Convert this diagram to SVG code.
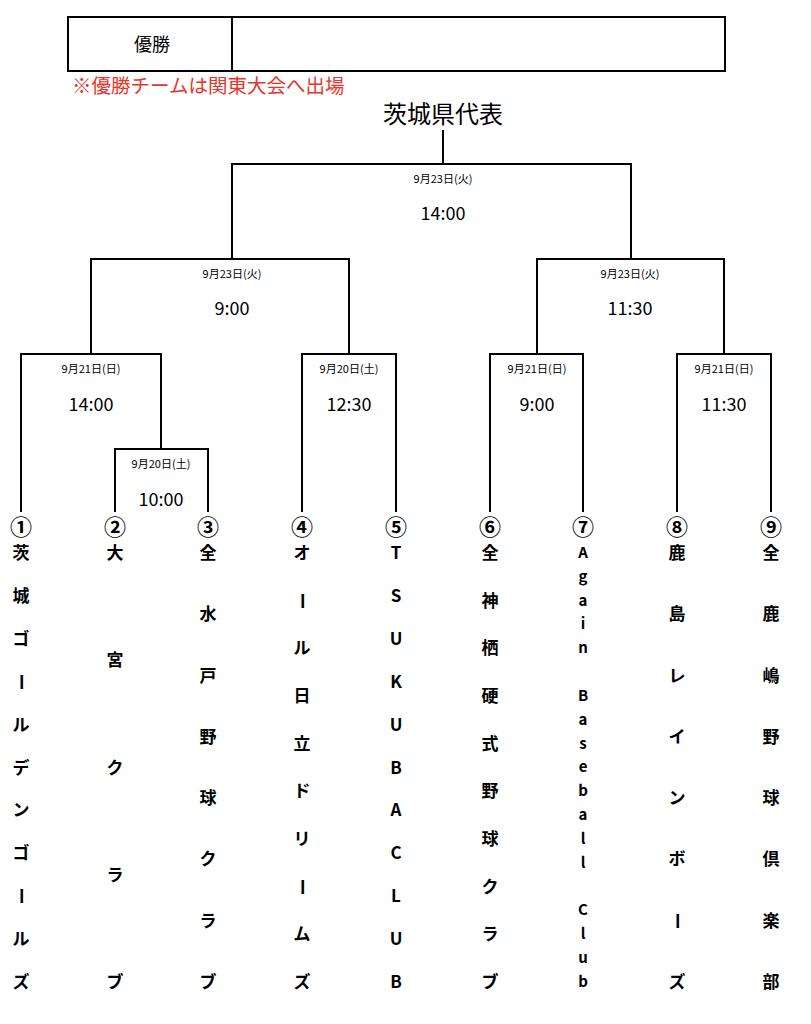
<svg xmlns="http://www.w3.org/2000/svg" width="811" height="1024" viewBox="0 0 811 1024">
<style>
.l{stroke:#000;stroke-width:2;fill:none}
text{font-family:"Noto Sans CJK JP","DejaVu Sans",sans-serif;text-anchor:middle}
.d{font-size:11px}
.t{font-size:18px}
.n{font-size:22px;font-weight:bold}
.c{font-size:17px;font-weight:bold}
</style>
<rect width="811" height="1024" fill="#fff"/>
<g id="winner">
<rect x="68" y="17" width="657" height="54" class="l"/>
<line x1="232" y1="17" x2="232" y2="71" class="l"/>
<text x="152" y="51" style="font-size:18px">優勝</text>
<text x="72" y="93" style="font-size:19.5px;fill:#e8352a;text-anchor:start">※優勝チームは関東大会へ出場</text>
<text x="443" y="123" style="font-size:24px">茨城県代表</text>
</g>
<g id="connectors" class="l">
<path d="M443 130V164M232 259V164H631V259"/>
<path d="M91 354V259H349V354M537 354V259H724V354"/>
<path d="M21 512V354H161V449M115 512V449H208V512"/>
<path d="M302 512V354H396V512M490 512V354H583V512M677 512V354H771V512"/>
</g>
<g id="labels">
<text x="443" y="183" class="d">9月23日(火)</text><text x="443" y="220" class="t">14:00</text>
<text x="232" y="278" class="d">9月23日(火)</text><text x="232" y="315" class="t">9:00</text>
<text x="630" y="278" class="d">9月23日(火)</text><text x="630" y="315" class="t">11:30</text>
<text x="91" y="373" class="d">9月21日(日)</text><text x="91" y="411" class="t">14:00</text>
<text x="161" y="468" class="d">9月20日(土)</text><text x="161" y="506" class="t">10:00</text>
<text x="349" y="373" class="d">9月20日(土)</text><text x="349" y="411" class="t">12:30</text>
<text x="537" y="373" class="d">9月21日(日)</text><text x="537" y="411" class="t">9:00</text>
<text x="724" y="373" class="d">9月21日(日)</text><text x="724" y="411" class="t">11:30</text>
</g>
<g id="team1"><text x="21" y="535" class="n">①</text>
<text class="c" x="21"><tspan x="21" y="559">茨</tspan><tspan x="21" y="602">城</tspan><tspan x="21" y="645">ゴ</tspan><tspan x="21" y="731">ル</tspan><tspan x="21" y="774">デ</tspan><tspan x="21" y="816">ン</tspan><tspan x="21" y="859">ゴ</tspan><tspan x="21" y="945">ル</tspan><tspan x="21" y="988">ズ</tspan></text>
<text class="c" transform="translate(21 682) rotate(90)" y="6">ー</text><text class="c" transform="translate(21 896) rotate(90)" y="6">ー</text></g>
<g id="team2"><text x="115" y="535" class="n">②</text>
<text class="c"><tspan x="115" y="559">大</tspan><tspan x="115" y="666">宮</tspan><tspan x="115" y="774">ク</tspan><tspan x="115" y="881">ラ</tspan><tspan x="115" y="988">ブ</tspan></text></g>
<g id="team3"><text x="208" y="535" class="n">③</text>
<text class="c"><tspan x="208" y="559">全</tspan><tspan x="208" y="620">水</tspan><tspan x="208" y="682">戸</tspan><tspan x="208" y="743">野</tspan><tspan x="208" y="804">球</tspan><tspan x="208" y="865">ク</tspan><tspan x="208" y="927">ラ</tspan><tspan x="208" y="988">ブ</tspan></text></g>
<g id="team4"><text x="302" y="535" class="n">④</text>
<text class="c"><tspan x="302" y="559">オ</tspan><tspan x="302" y="654">ル</tspan><tspan x="302" y="702">日</tspan><tspan x="302" y="750">立</tspan><tspan x="302" y="797">ド</tspan><tspan x="302" y="845">リ</tspan><tspan x="302" y="940">ム</tspan><tspan x="302" y="988">ズ</tspan></text>
<text class="c" transform="translate(302 601) rotate(90)" y="6">ー</text><text class="c" transform="translate(302 887) rotate(90)" y="6">ー</text></g>
<g id="team5"><text x="396" y="535" class="n">⑤</text>
<text class="c"><tspan x="396" y="559">T</tspan><tspan x="396" y="602">S</tspan><tspan x="396" y="645">U</tspan><tspan x="396" y="688">K</tspan><tspan x="396" y="731">U</tspan><tspan x="396" y="774">B</tspan><tspan x="396" y="816">A</tspan><tspan x="396" y="859">C</tspan><tspan x="396" y="902">L</tspan><tspan x="396" y="945">U</tspan><tspan x="396" y="988">B</tspan></text></g>
<g id="team6"><text x="490" y="535" class="n">⑥</text>
<text class="c"><tspan x="490" y="559">全</tspan><tspan x="490" y="607">神</tspan><tspan x="490" y="654">栖</tspan><tspan x="490" y="702">硬</tspan><tspan x="490" y="750">式</tspan><tspan x="490" y="797">野</tspan><tspan x="490" y="845">球</tspan><tspan x="490" y="893">ク</tspan><tspan x="490" y="940">ラ</tspan><tspan x="490" y="988">ブ</tspan></text></g>
<g id="team7"><text x="583" y="535" class="n">⑦</text>
<text class="c" style="font-size:15px"><tspan x="583" y="558">A</tspan><tspan x="583" y="582">g</tspan><tspan x="583" y="606">a</tspan><tspan x="583" y="629">i</tspan><tspan x="583" y="653">n</tspan><tspan x="583" y="701">B</tspan><tspan x="583" y="725">a</tspan><tspan x="583" y="749">s</tspan><tspan x="583" y="772">e</tspan><tspan x="583" y="796">b</tspan><tspan x="583" y="820">a</tspan><tspan x="583" y="844">l</tspan><tspan x="583" y="868">l</tspan><tspan x="583" y="915">C</tspan><tspan x="583" y="939">l</tspan><tspan x="583" y="963">u</tspan><tspan x="583" y="987">b</tspan></text></g>
<g id="team8"><text x="677" y="535" class="n">⑧</text>
<text class="c"><tspan x="677" y="559">鹿</tspan><tspan x="677" y="620">島</tspan><tspan x="677" y="682">レ</tspan><tspan x="677" y="743">イ</tspan><tspan x="677" y="804">ン</tspan><tspan x="677" y="865">ボ</tspan><tspan x="677" y="988">ズ</tspan></text>
<text class="c" transform="translate(677 921) rotate(90)" y="6">ー</text></g>
<g id="team9"><text x="771" y="535" class="n">⑨</text>
<text class="c"><tspan x="771" y="559">全</tspan><tspan x="771" y="620">鹿</tspan><tspan x="771" y="682">嶋</tspan><tspan x="771" y="743">野</tspan><tspan x="771" y="804">球</tspan><tspan x="771" y="865">倶</tspan><tspan x="771" y="927">楽</tspan><tspan x="771" y="988">部</tspan></text></g>
</svg>
